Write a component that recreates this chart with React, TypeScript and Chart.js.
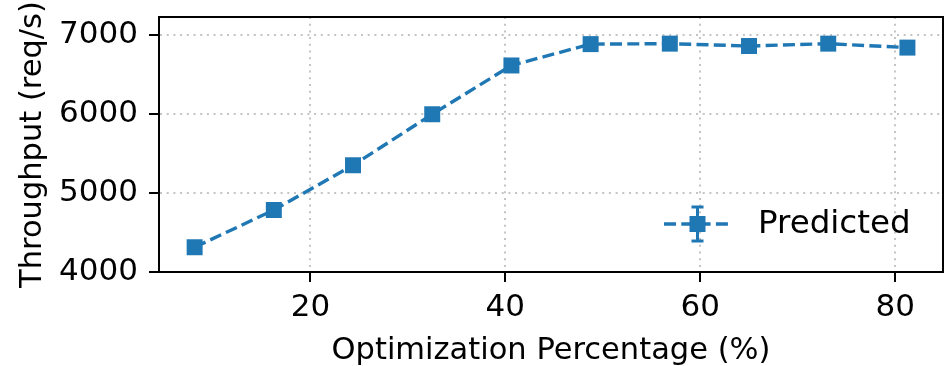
import React, { useEffect, useRef } from 'react';
import { Chart, registerables } from 'chart.js';

Chart.register(...registerables);

const optimizationPct = [8.125, 16.25, 24.375, 32.5, 40.625, 48.75, 56.875, 65, 73.125, 81.25];
const throughput = [4313, 4784, 5350, 5995, 6612, 6882, 6888, 6858, 6888, 6838];
const xTicks = [20, 40, 60, 80];
const yTicks = [4000, 5000, 6000, 7000];
const seriesLabel = 'Predicted';
const xTitle = 'Optimization Percentage (%)';
const yTitle = 'Throughput (req/s)';

const BLUE = '#1f77b4';
const FONT = '"DejaVu Sans", sans-serif';
const TICK_SIZE = 31;
const TITLE_SIZE = 30.5;
const LEGEND_SIZE = 32.5;

const framePlugin = {
  id: 'frame',
  afterDatasetsDraw(chart: any) {
    const { ctx, chartArea } = chart;
    ctx.save();
    ctx.strokeStyle = '#000';
    ctx.lineWidth = 2;
    ctx.setLineDash([]);
    ctx.strokeRect(chartArea.left, chartArea.top, chartArea.right - chartArea.left, chartArea.bottom - chartArea.top);
    ctx.restore();
  },
};

const legendPlugin = {
  id: 'mplLegend',
  afterDraw(chart: any) {
    const { ctx, chartArea } = chart;
    const y = chartArea.bottom - 48;
    const x0 = chartArea.right - 279;
    const x1 = chartArea.right - 212;
    const xm = (x0 + x1) / 2;
    ctx.save();
    ctx.strokeStyle = BLUE;
    ctx.fillStyle = BLUE;
    ctx.lineWidth = 3.4;
    ctx.setLineDash([12, 5.3]);
    ctx.beginPath();
    ctx.moveTo(x0, y);
    ctx.lineTo(x1, y);
    ctx.stroke();
    ctx.setLineDash([]);
    ctx.lineWidth = 3;
    ctx.beginPath();
    ctx.moveTo(xm, y - 17);
    ctx.lineTo(xm, y + 17);
    ctx.moveTo(xm - 6, y - 17);
    ctx.lineTo(xm + 6, y - 17);
    ctx.moveTo(xm - 6, y + 17);
    ctx.lineTo(xm + 6, y + 17);
    ctx.stroke();
    ctx.fillRect(xm - 8, y - 8, 16, 16);
    ctx.fillStyle = '#000';
    ctx.font = `${LEGEND_SIZE}px ${FONT}`;
    ctx.textAlign = 'left';
    ctx.textBaseline = 'middle';
    ctx.fillText(seriesLabel, chartArea.right - 185, y + 1);
    ctx.restore();
  },
};

const gridOpts = {
  color: '#c4c4c4',
  lineWidth: 2,
  drawTicks: true,
  tickLength: 10,
  tickColor: '#000',
  tickWidth: 2,
  tickBorderDash: [],
};

export default function App() {
  const ref = useRef<HTMLCanvasElement>(null);
  useEffect(() => {
    if (!ref.current) return;
    const chart = new Chart(ref.current, {
      type: 'line',
      data: {
        datasets: [
          {
            label: seriesLabel,
            data: optimizationPct.map((x, i) => ({ x, y: throughput[i] })),
            borderColor: BLUE,
            backgroundColor: BLUE,
            borderWidth: 3.4,
            borderDash: [12, 5.3],
            pointStyle: 'rect',
            pointRadius: 11.3,
            pointBorderWidth: 0,
            pointBackgroundColor: BLUE,
            tension: 0,
            fill: false,
          },
        ],
      },
      options: {
        animation: false,
        responsive: false,
        maintainAspectRatio: false,
        layout: { autoPadding: false, padding: { left: 0, right: 6, top: 17, bottom: 0 } },
        plugins: { legend: { display: false }, tooltip: { enabled: false } },
        scales: {
          x: {
            type: 'linear',
            min: 4.47,
            max: 84.9,
            afterBuildTicks: (s: any) => {
              s.ticks = xTicks.map((v) => ({ value: v }));
            },
            afterFit: (s: any) => {
              s.height = 94;
              s.paddingLeft = 0;
              s.paddingRight = 0;
            },
            ticks: {
              font: { family: FONT, size: TICK_SIZE },
              color: '#000',
              padding: 7,
              maxRotation: 0,
              autoSkip: false,
              callback: (v: any) => String(v),
            },
            grid: gridOpts,
            border: { display: true, color: '#000', width: 2, dash: [2, 4.7] },
            title: {
              display: true,
              text: xTitle,
              font: { family: FONT, size: TITLE_SIZE },
              color: '#000',
              padding: { top: 0, bottom: -3 },
            },
          },
          y: {
            type: 'linear',
            min: 4000,
            max: 7225,
            afterBuildTicks: (s: any) => {
              s.ticks = yTicks.map((v) => ({ value: v }));
            },
            afterFit: (s: any) => {
              s.width = 159;
              s.paddingTop = 0;
              s.paddingBottom = 0;
            },
            ticks: {
              font: { family: FONT, size: TICK_SIZE },
              color: '#000',
              padding: 11,
              autoSkip: false,
              callback: (v: any) => String(v),
            },
            grid: gridOpts,
            border: { display: true, color: '#000', width: 2, dash: [2, 4.7] },
            title: {
              display: true,
              text: yTitle,
              font: { family: FONT, size: TITLE_SIZE },
              color: '#000',
              padding: { top: 15, bottom: 0 },
            },
          },
        },
      },
      plugins: [framePlugin, legendPlugin],
    });
    return () => chart.destroy();
  }, []);
  return (
    <div style={{ position: 'fixed', left: 0, top: 0, width: 949, height: 366, background: '#fff' }}>
      <canvas ref={ref} width={949} height={366} style={{ width: 949, height: 366, display: 'block' }} />
    </div>
  );
}
